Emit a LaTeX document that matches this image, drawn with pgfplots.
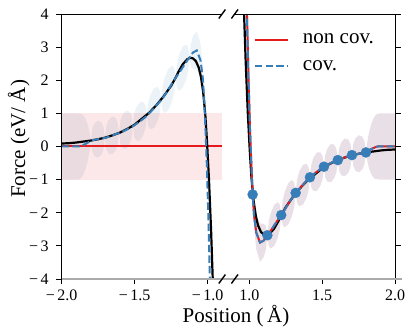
\documentclass[border=0pt]{standalone}
\usepackage{fontspec}
\setmainfont{Liberation Serif}
\usepackage{pgfplots}
\pgfplotsset{compat=1.18}
\usepackage{pgfplotstable}

\definecolor{cred}{RGB}{228,26,28}
\definecolor{cblue}{RGB}{55,126,184}
\definecolor{bandblue}{RGB}{235,242,248}
\definecolor{bandmix}{RGB}{233,223,230}
\definecolor{spinegray}{RGB}{170,170,170}

% true force (black), right side
\pgfplotstableread{
x y
0.962 4.30
0.975 2.60
0.990 1.00
1.003 -0.10
1.015 -0.95
1.030 -1.65
1.045 -2.10
1.060 -2.38
1.080 -2.58
1.100 -2.66
1.120 -2.68
1.140 -2.63
1.170 -2.48
1.200 -2.25
1.217 -2.09
1.250 -1.83
1.300 -1.52
1.350 -1.25
1.400 -1.02
1.450 -0.84
1.500 -0.66
1.550 -0.53
1.600 -0.42
1.650 -0.34
1.700 -0.27
1.750 -0.22
1.800 -0.18
1.850 -0.15
1.900 -0.12
1.950 -0.10
2.000 -0.09
}\truer

% true force (black), left side
\pgfplotstableread{
x y
-2.000 0.09
-1.950 0.10
-1.900 0.12
-1.850 0.15
-1.800 0.18
-1.750 0.22
-1.700 0.27
-1.650 0.34
-1.600 0.42
-1.550 0.53
-1.500 0.66
-1.450 0.84
-1.400 1.02
-1.350 1.25
-1.300 1.52
-1.250 1.83
-1.217 2.09
-1.200 2.25
-1.170 2.48
-1.140 2.63
-1.120 2.68
-1.100 2.66
-1.080 2.58
-1.060 2.38
-1.045 2.10
-1.030 1.65
-1.015 0.95
-1.003 0.10
-0.990 -1.00
-0.975 -2.60
-0.962 -4.30
}\truel

% GP mean m and std s, right side
\pgfplotstableread{
x m s
0.980 4.50 0.12
0.984 4.00 0.10
0.995 2.00 0.06
1.005 0.50 0.04
1.014 -0.50 0.02
1.023 -1.45 0
1.033 -2.10 0.35
1.048 -2.60 0.50
1.0735 -2.90 0.58
1.099 -2.84 0.50
1.114 -2.75 0.35
1.124 -2.68 0
1.1335 -2.63 0.37
1.1478 -2.54 0.54
1.1715 -2.38 0.62
1.1953 -2.22 0.54
1.2095 -2.13 0.37
1.219 -2.07 0
1.2289 -2.00 0.37
1.2438 -1.90 0.54
1.2685 -1.72 0.62
1.2933 -1.55 0.54
1.3081 -1.46 0.37
1.318 -1.40 0
1.3278 -1.35 0.36
1.3425 -1.28 0.52
1.367 -1.16 0.60
1.3915 -1.04 0.52
1.4062 -0.98 0.36
1.416 -0.93 0
1.4256 -0.89 0.35
1.440 -0.84 0.50
1.464 -0.76 0.58
1.488 -0.68 0.50
1.5024 -0.64 0.35
1.512 -0.61 0
1.5215 -0.59 0.35
1.5358 -0.56 0.50
1.5595 -0.50 0.58
1.5833 -0.45 0.50
1.5975 -0.43 0.35
1.607 -0.41 0
1.6167 -0.39 0.34
1.6313 -0.37 0.50
1.6555 -0.33 0.57
1.6798 -0.29 0.50
1.6943 -0.27 0.34
1.704 -0.26 0
1.7136 -0.25 0.34
1.728 -0.24 0.49
1.752 -0.22 0.56
1.776 -0.20 0.49
1.7904 -0.19 0.34
1.800 -0.18 0
1.810 -0.15 0.30
1.820 -0.12 0.52
1.835 -0.08 0.74
1.850 -0.05 0.88
1.865 -0.02 0.96
1.880 0.00 0.99
1.900 0.00 1.00
2.000 0.00 1.00
}\gpr

% covariant GP mean and std, left side
\pgfplotstableread{
x m s
-2.000 0.00 1.00
-1.900 0.00 1.00
-1.880 0.00 0.99
-1.865 0.02 0.96
-1.850 0.05 0.88
-1.835 0.08 0.74
-1.820 0.12 0.52
-1.810 0.15 0.30
-1.800 0.18 0
-1.7904 0.19 0.34
-1.776 0.20 0.49
-1.752 0.22 0.56
-1.728 0.24 0.49
-1.7136 0.25 0.34
-1.704 0.26 0
-1.6943 0.27 0.34
-1.6798 0.29 0.50
-1.6555 0.33 0.57
-1.6313 0.37 0.50
-1.6167 0.39 0.34
-1.607 0.41 0
-1.5975 0.43 0.35
-1.5833 0.45 0.50
-1.5595 0.50 0.58
-1.5358 0.56 0.50
-1.5215 0.59 0.35
-1.512 0.61 0
-1.5024 0.64 0.35
-1.488 0.68 0.50
-1.464 0.76 0.58
-1.440 0.84 0.50
-1.4256 0.89 0.35
-1.416 0.93 0
-1.4062 0.98 0.36
-1.3915 1.04 0.52
-1.367 1.16 0.60
-1.3425 1.28 0.52
-1.3278 1.35 0.36
-1.318 1.40 0
-1.3081 1.46 0.37
-1.2933 1.55 0.54
-1.2685 1.72 0.62
-1.2438 1.90 0.54
-1.2289 2.00 0.37
-1.219 2.07 0
-1.2095 2.13 0.37
-1.1953 2.22 0.54
-1.1715 2.38 0.62
-1.1478 2.54 0.54
-1.1335 2.63 0.37
-1.124 2.68 0
-1.114 2.75 0.35
-1.099 2.84 0.50
-1.0735 2.90 0.58
-1.048 2.60 0.50
-1.033 2.10 0.35
-1.023 1.45 0
-1.014 0.50 0.02
-1.005 -0.50 0.04
-0.995 -2.00 0.06
-0.984 -4.00 0.10
-0.980 -4.50 0.12
}\gpl

% training points
\pgfplotstableread{
x y
1.023 -1.45
1.124 -2.68
1.219 -2.07
1.318 -1.40
1.416 -0.93
1.512 -0.61
1.607 -0.41
1.704 -0.26
1.800 -0.18
}\train

\pgfplotsset{
  brk/.style={
    scale only axis, width=160.4pt, height=265pt,
    ymin=-4, ymax=4, ytick={-4,-3,...,4},
    axis line style={draw=none},
    tick align=outside, major tick length=5.5pt,
    tick style={black, line width=0.8pt},
    ticklabel style={font=\fontsize{16}{16}\selectfont},
    yticklabel style={xshift=-4pt},
    xticklabel style={yshift=-2pt},
    xtick pos=bottom, clip=true,
  },
  blk/.style={black, line width=2.2pt},
  nc/.style={cred, line width=2pt},
  cv/.style={cblue, line width=2pt, dash pattern=on 7.4pt off 3.2pt},
}

\begin{document}
\begin{tikzpicture}
\path[use as bounding box] (0,0) rectangle (414pt,336pt);

\begin{axis}[brk, name=L, at={(61.7pt,57pt)}, anchor=south west,
  xmin=-2, xmax=-0.9, xtick={-2,-1.5,-1},
  xticklabels={{−\hspace{2.5pt}2.0},{−\hspace{2.5pt}1.5},{−\hspace{2.5pt}1.0}},
  ytick pos=left,
  yticklabels={{−\hspace{2.5pt}4},{−\hspace{2.5pt}3},{−\hspace{2.5pt}2},{−\hspace{2.5pt}1},0,1,2,3,4}]
  \addplot[draw=none, stack plots=y, forget plot] table[x=x, y expr=\thisrow{m}-\thisrow{s}] {\gpl};
  \addplot[draw=none, fill=bandblue, stack plots=y, forget plot] table[x=x, y expr=2*\thisrow{s}] {\gpl} \closedcycle;
  \addplot[fill=cred, fill opacity=0.1, draw=none, forget plot] coordinates {(-2,1) (-0.9,1) (-0.9,-1) (-2,-1)} -- cycle;
  \addplot[nc, forget plot] coordinates {(-2,0) (-0.9,0)};
  \addplot[blk, forget plot] table[x=x, y=y] {\truel};
  \addplot[cv, forget plot] table[x=x, y=m] {\gpl};
\end{axis}

\begin{axis}[brk, name=R, at={(234.7pt,57pt)}, anchor=south west,
  xmin=0.9, xmax=2, xtick={1,1.5,2},
  xticklabels={1.0,1.5,2.0},
  ytick pos=right, yticklabels={},
  legend style={at={(0.12,0.925)}, anchor=north west, draw=none, fill=none,
    inner sep=0pt, outer sep=0pt, nodes={inner sep=0pt},
    font=\fontsize{21}{21}\selectfont, row sep=15pt,
    /tikz/every odd column/.append style={column sep=14pt}},
  legend cell align=left,
  legend image code/.code={\draw[#1] (0pt,0pt) -- (33pt,0pt);}]
  \addplot[draw=none, stack plots=y, forget plot] table[x=x, y expr=\thisrow{m}-\thisrow{s}] {\gpr};
  \addplot[draw=none, fill=bandmix, stack plots=y, forget plot] table[x=x, y expr=2*\thisrow{s}] {\gpr} \closedcycle;
  \addplot[blk, forget plot] table[x=x, y=y] {\truer};
  \addplot[nc, forget plot] table[x=x, y=m] {\gpr};
  \addplot[cv, forget plot] table[x=x, y=m] {\gpr};
  \addplot[only marks, mark=*, mark size=5pt, cblue, mark options={draw=none}, forget plot] table[x=x, y=y] {\train};
  \addlegendimage{nc}
  \addlegendentry{non cov.}
  \addlegendimage{cv}
  \addlegendentry{cov.}
\end{axis}

% spines
\draw[line width=0.9pt] (L.south west) -- (L.north west) -- (L.north east);
\draw[line width=0.9pt] (R.north west) -- (R.north east) -- (R.south east);
\draw[spinegray, line width=1.5pt] (61.7pt,57pt) -- (401.7pt,57pt);
% break marks
\foreach \a in {L.north east, L.south east, R.north west, R.south west}
  \draw[line width=1.4pt] ([shift={(-3.3pt,-4.5pt)}]\a) -- ++(6.6pt,9pt);

% axis labels
\node[font=\fontsize{21}{21}\selectfont, anchor=base] at (236pt,13pt) {Position (\,Å)};
\node[font=\fontsize{21}{21}\selectfont, anchor=base west, rotate=90, inner sep=0pt] at (25pt,138pt) {Force (eV/ Å)};
\end{tikzpicture}
\end{document}
